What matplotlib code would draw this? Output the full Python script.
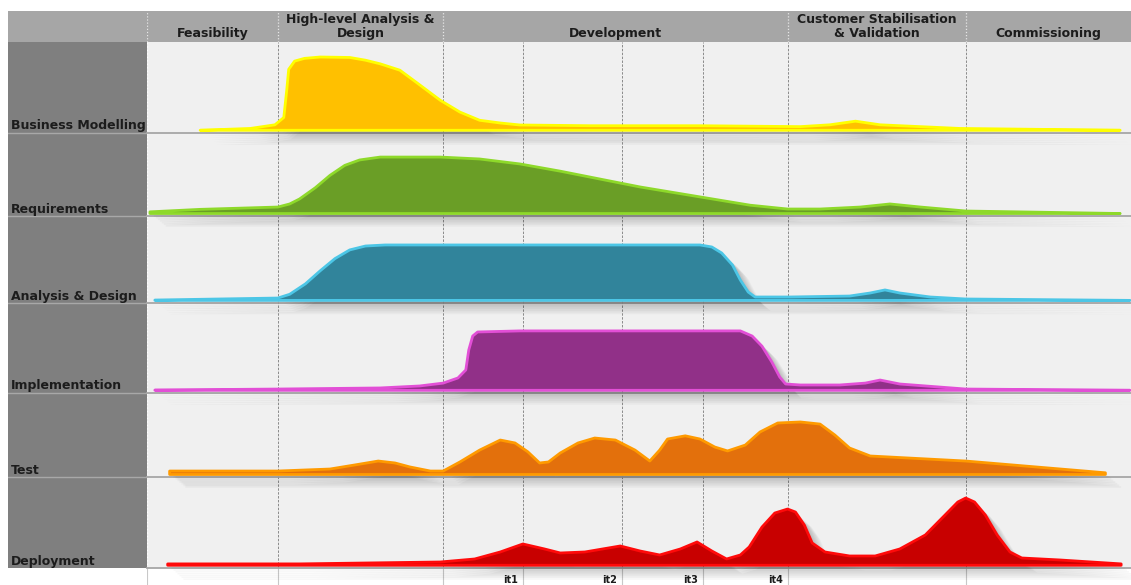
import matplotlib
matplotlib.use("Agg")
import matplotlib.pyplot as plt
import numpy as np

# ---------------- data ----------------
phases = ["Feasibility", "High-level Analysis &\nDesign", "Development",
          "Customer Stabilisation\n& Validation", "Commissioning"]
phase_edges = [0, 13.3, 30.1, 65.1, 83.2, 100]
iterations = ["it1", "it2", "it3", "it4"]
iteration_ends = [38.2, 48.3, 56.5, 65.1]
disciplines = ["Business Modelling", "Requirements", "Analysis & Design",
               "Implementation", "Test", "Deployment"]

bm_x = [5.4, 10.5, 13.0, 13.9, 14.2, 14.4, 15.0, 16.0, 17.6, 20.6, 22.2, 23.7, 25.7,
        27.7, 29.8, 31.8, 33.8, 35.9, 37.9, 45.0, 56.2, 66.4, 69.4, 72.0, 74.5, 82.6, 98.9]
bm_y = [0.03, 0.05, 0.09, 0.17, 0.47, 0.70, 0.79, 0.82, 0.835, 0.83, 0.80, 0.76, 0.69,
        0.53, 0.36, 0.23, 0.14, 0.11, 0.088, 0.08, 0.08, 0.07, 0.09, 0.13, 0.09, 0.05, 0.03]

req_x = [0.3, 5.4, 13.3, 14.5, 15.5, 17.1, 18.6, 20.1, 21.6, 23.7, 29.8, 33.8, 37.9,
         42.0, 46.0, 50.1, 56.2, 61.3, 65.1, 68.4, 72.5, 75.5, 78.6, 83.2, 98.9]
req_y = [0.05, 0.08, 0.108, 0.145, 0.205, 0.34, 0.49, 0.61, 0.675, 0.71, 0.71, 0.687, 0.627,
         0.54, 0.446, 0.35, 0.23, 0.13, 0.084, 0.084, 0.108, 0.145, 0.108, 0.06, 0.03]

ad_x = [0.8, 13.3, 14.5, 16.1, 17.6, 19.1, 20.6, 22.2, 24.2, 56.2, 57.4, 58.4, 59.5,
        60.3, 61.1, 61.8, 65.3, 71.4, 73.5, 75.0, 76.5, 79.6, 83.2, 99.9]
ad_y = [0.034, 0.057, 0.10, 0.22, 0.37, 0.51, 0.61, 0.655, 0.667, 0.667, 0.644, 0.575, 0.437,
        0.264, 0.126, 0.069, 0.069, 0.08, 0.115, 0.15, 0.115, 0.069, 0.046, 0.03]

impl_x = [0.8, 13.3, 23.7, 27.7, 30.1, 31.6, 32.4, 32.7, 33.1, 33.6, 37.9, 60.3, 61.5,
          62.5, 63.5, 64.3, 64.9, 66.4, 70.4, 73.0, 74.5, 76.5, 83.2, 99.9]
impl_y = [0.033, 0.044, 0.056, 0.078, 0.11, 0.167, 0.256, 0.478, 0.633, 0.678, 0.69, 0.69,
          0.633, 0.52, 0.344, 0.178, 0.10, 0.089, 0.089, 0.11, 0.144, 0.10, 0.044, 0.03]

test_x = [2.3, 13.3, 18.6, 21.1, 23.5, 25.2, 26.7, 28.8, 30.1, 31.8, 33.8, 35.9, 37.4,
          38.7, 39.9, 40.8, 42.0, 43.8, 45.5, 47.6, 49.6, 51.1, 52.1, 52.9, 54.7, 56.2,
          57.7, 59.0, 60.8, 62.3, 64.1, 66.4, 68.4, 69.9, 71.4, 73.5, 83.2, 97.4]
test_y = [0.071, 0.071, 0.095, 0.143, 0.19, 0.167, 0.12, 0.071, 0.071, 0.179, 0.32, 0.44,
          0.405, 0.30, 0.167, 0.179, 0.286, 0.405, 0.464, 0.44, 0.32, 0.19, 0.32, 0.452,
          0.49, 0.452, 0.357, 0.31, 0.38, 0.536, 0.643, 0.655, 0.63, 0.50, 0.345, 0.25,
          0.19, 0.05]

dep_x = [2.1, 15.5, 29.8, 33.3, 35.9, 38.2, 40.4, 42.0, 44.5, 48.1, 50.1, 52.1, 54.2,
         55.9, 57.4, 58.9, 60.3, 61.2, 62.5, 63.8, 65.1, 65.9, 66.8, 67.6, 68.9, 71.4,
         74.0, 76.5, 79.1, 81.1, 82.4, 83.2, 84.1, 85.2, 86.4, 87.7, 88.9, 92.8, 99.0]
dep_y = [0.045, 0.045, 0.066, 0.099, 0.176, 0.264, 0.209, 0.165, 0.176, 0.242, 0.187, 0.143,
         0.209, 0.286, 0.187, 0.099, 0.143, 0.231, 0.45, 0.604, 0.648, 0.615, 0.473, 0.275,
         0.176, 0.132, 0.132, 0.209, 0.363, 0.582, 0.725, 0.769, 0.725, 0.582, 0.363, 0.176,
         0.11, 0.088, 0.045]

series_x = [bm_x, req_x, ad_x, impl_x, test_x, dep_x]
series_y = [bm_y, req_y, ad_y, impl_y, test_y, dep_y]
face_colors = ["#FFC000", "#6A9E26", "#31849B", "#913088", "#E3700C", "#C80000"]
edge_colors = ["#FFFF00", "#8ED92A", "#4CC6E6", "#E24FD6", "#FF9A00", "#FF0A0A"]

# ---------------- layout ----------------
W, H = 1131, 585
fig = plt.figure(figsize=(W / 100, H / 100), dpi=100)
fig.patch.set_facecolor("white")


def rect(x0, y0, x1, y1):
    return [x0 / W, 1 - y1 / H, (x1 - x0) / W, (y1 - y0) / H]


def blank(ax, color):
    ax.set_facecolor(color)
    ax.set_xticks([])
    ax.set_yticks([])
    for s in ax.spines.values():
        s.set_visible(False)


LEFT, SPLIT, RIGHT = 8, 147, 1131
HEAD_TOP, HEAD_BOT, BOTTOM = 11, 42, 568
row_px = [42, 133, 216, 303, 393, 477, 568]
BASE = 0.03
TXT = "#1c1c1c"
FS = 9

# header (left part)
ax_hl = fig.add_axes(rect(LEFT, HEAD_TOP, SPLIT, HEAD_BOT))
blank(ax_hl, "#A6A6A6")

# header (phases)
ax_h = fig.add_axes(rect(SPLIT, HEAD_TOP, RIGHT, HEAD_BOT))
blank(ax_h, "#A6A6A6")
ax_h.set_xlim(0, 100)
ax_h.set_ylim(0, 1)
for e in phase_edges[:-1]:
    ax_h.axvline(e, color="#E6E6E6", lw=0.9, ls=(0, (1, 1.5)))
for i, name in enumerate(phases):
    c = (phase_edges[i] + phase_edges[i + 1]) / 2
    ax_h.text(c, 0.06, name, ha="center", va="bottom", multialignment="center",
              fontsize=FS, fontweight="bold", color=TXT, linespacing=1.1)

# left label column
ax_l = fig.add_axes(rect(LEFT, HEAD_BOT, SPLIT, BOTTOM))
blank(ax_l, "#7F7F7F")
ax_l.set_xlim(0, 1)
ax_l.set_ylim(BOTTOM, HEAD_BOT)
for yb in row_px[1:-1]:
    ax_l.axhline(yb, color="#A8A8A8", lw=1.0)

# plot background with grid lines
ax_bg = fig.add_axes(rect(SPLIT, HEAD_BOT, RIGHT, BOTTOM))
blank(ax_bg, "#F0F0F0")
ax_bg.set_xlim(0, 100)
ax_bg.set_ylim(0, 1)
ax_bg.axvline(0, color="#FFFFFF", lw=1.0, ls=(0, (1, 1.5)))
for e in sorted(set(phase_edges[1:-1] + iteration_ends)):
    ax_bg.axvline(e, color="#8A8A8A", lw=0.7, ls=(0, (2.5, 1.5)))

# bottom strip with iteration labels
ax_b = fig.add_axes(rect(SPLIT, BOTTOM, RIGHT, H))
blank(ax_b, "white")
ax_b.set_xlim(0, 100)
ax_b.set_ylim(0, 1)
for e in sorted(set(phase_edges[:-1] + iteration_ends)):
    ax_b.axvline(e, color="#C8C8C8", lw=0.8)
for lab, e in zip(iterations, iteration_ends):
    ax_b.text(e - 0.5, 0.1, lab, ha="right", va="baseline", fontsize=7,
              fontweight="bold", color=TXT)

# discipline rows
for i in range(6):
    ax = fig.add_axes(rect(SPLIT, row_px[i], RIGHT, row_px[i + 1]))
    ax.set_axis_off()
    ax.patch.set_alpha(0)
    ax.set_xlim(0, 100)
    ax.set_ylim(0, 1)
    ax.axhline(0, color="#A6A6A6", lw=1.3, zorder=1, clip_on=False)
    x = np.array(series_x[i], dtype=float)
    y = np.array(series_y[i], dtype=float)
    px = np.concatenate([x, x[::-1]])
    py = np.concatenate([y, np.full_like(y, BASE)[::-1]])
    for k in range(1, 9):
        ax.fill(px + 0.2 * k, py - 0.02 * k, color="black", alpha=0.03,
                lw=0, zorder=2, clip_on=False)
    ax.fill(px, py, facecolor=face_colors[i], edgecolor=edge_colors[i],
            lw=2.0, joinstyle="round", zorder=3, clip_on=False)
    fig.text(11 / W, 1 - (row_px[i + 1] - 0.5) / H, disciplines[i], ha="left",
             va="bottom", fontsize=FS, fontweight="bold", color=TXT)

fig.savefig("out.png", dpi=100, facecolor="white")
